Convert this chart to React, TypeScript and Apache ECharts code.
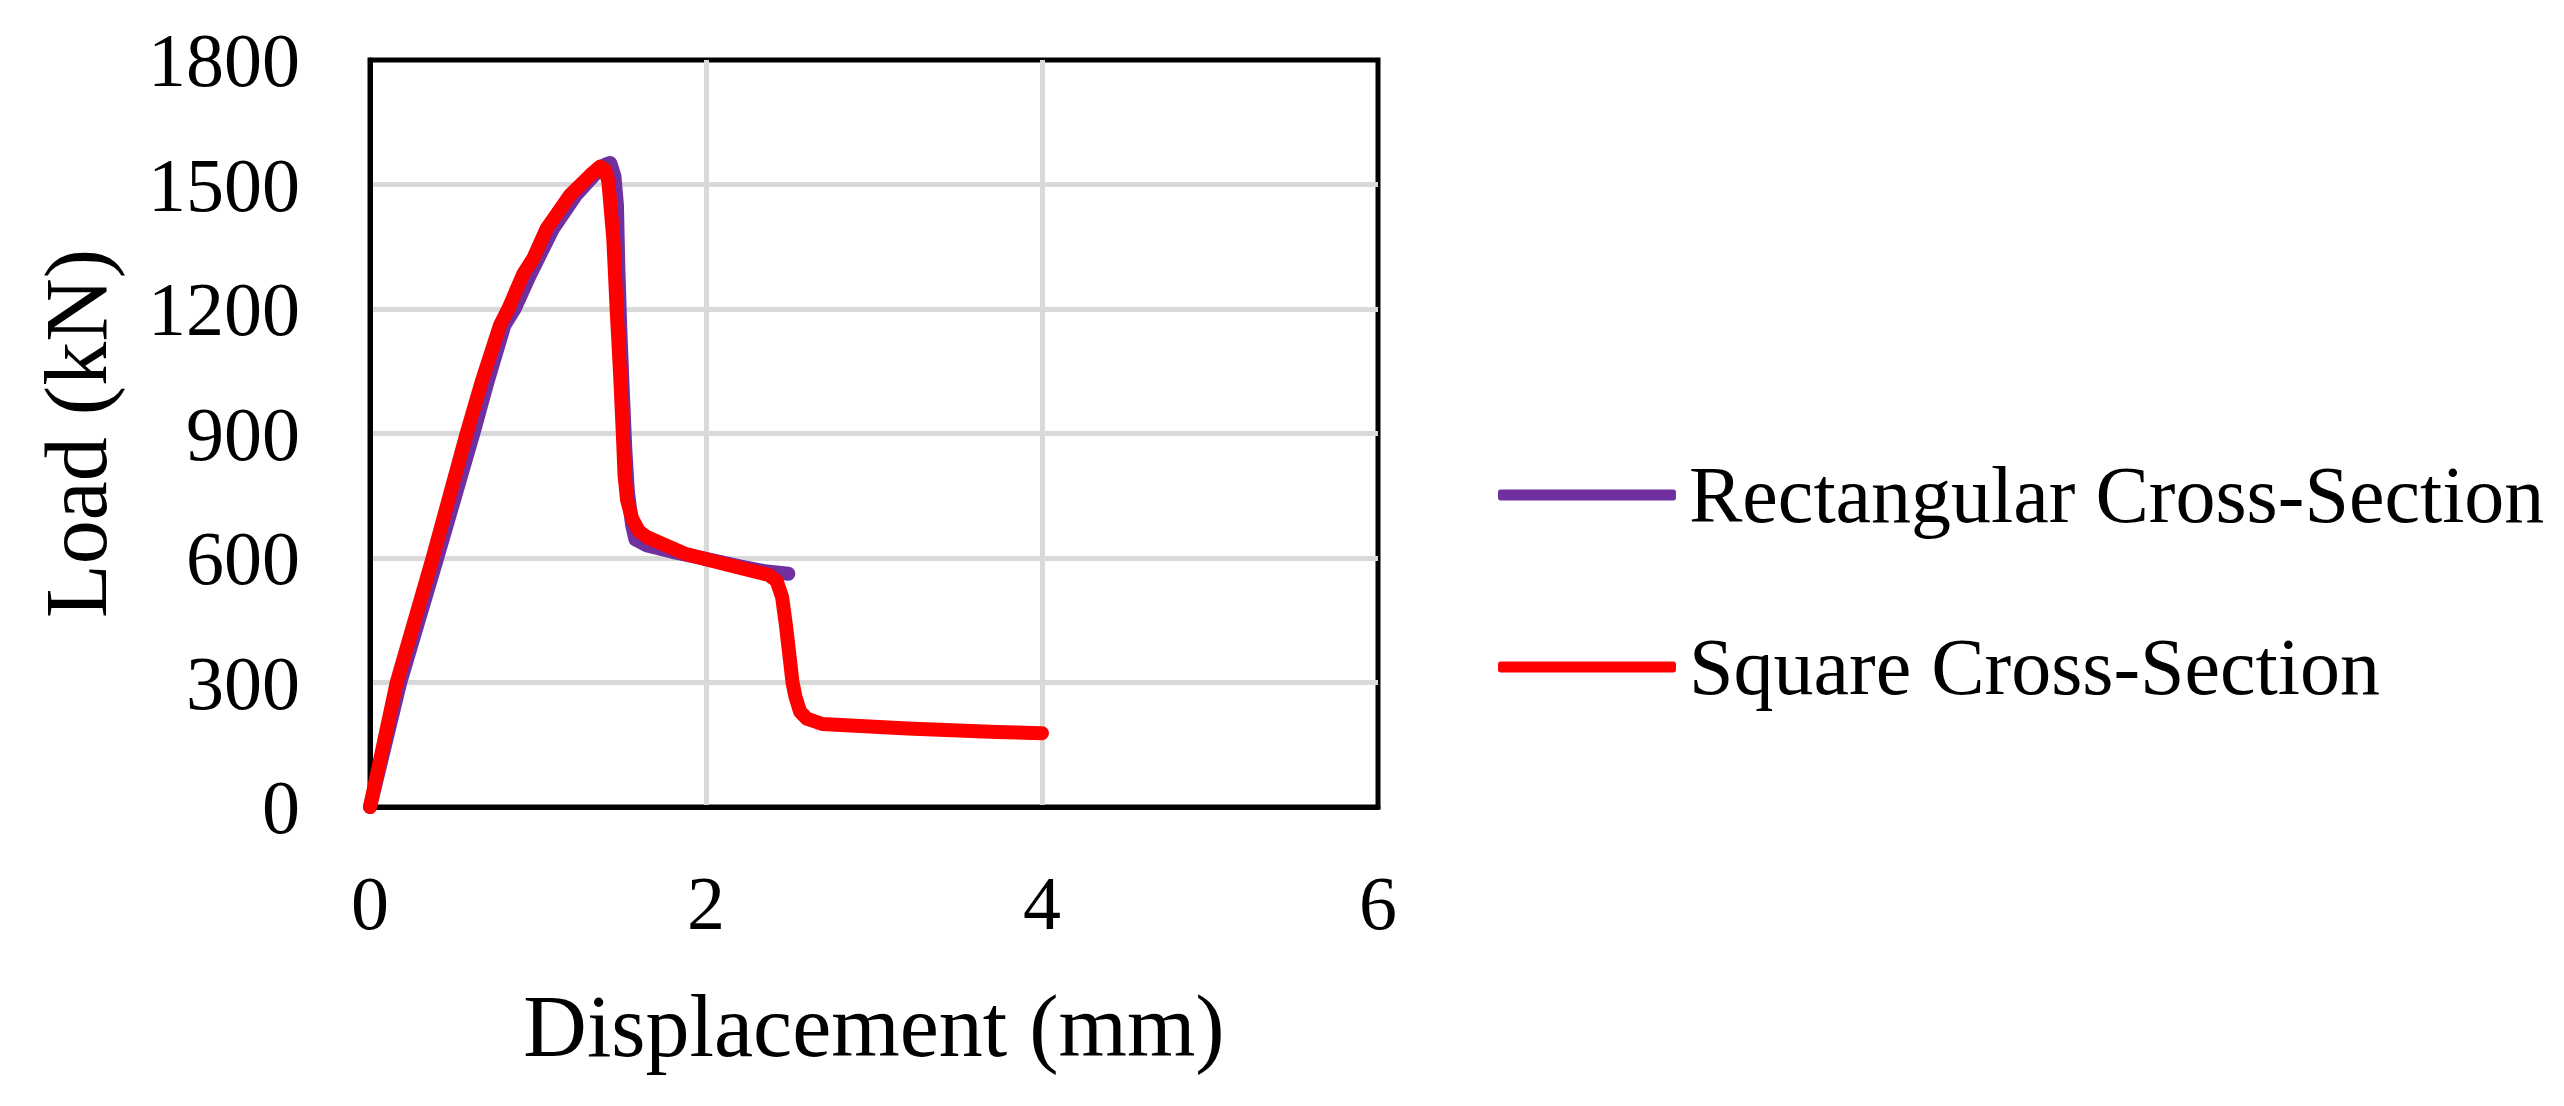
import React, { useEffect, useRef } from "react";
import * as echarts from "echarts";

const seriesNames = ["Rectangular Cross-Section", "Square Cross-Section"];

const rectX = [0, 0.18, 0.4, 0.615, 0.7, 0.8, 0.86, 0.95, 1.09, 1.225, 1.34, 1.4, 1.43, 1.455, 1.47, 1.478, 1.49, 1.505, 1.52, 1.535, 1.56, 1.58, 1.65, 1.8, 2.0, 2.2, 2.35, 2.49];
const rectY = [0, 300, 600, 900, 1025, 1161, 1200, 1280, 1394, 1474, 1525, 1548, 1552, 1520, 1450, 1300, 1150, 1000, 860, 760, 680, 645, 630, 615, 598, 580, 568, 562];

const squareX = [0, 0.159, 0.373, 0.575, 0.665, 0.774, 0.823, 0.913, 0.972, 1.052, 1.19, 1.31, 1.369, 1.4, 1.419, 1.448, 1.468, 1.488, 1.505, 1.515, 1.53, 1.56, 1.6, 1.65, 1.87, 2.0, 2.134, 2.374, 2.42, 2.453, 2.475, 2.493, 2.515, 2.533, 2.56, 2.6, 2.692, 3.2, 3.73, 4.0];
const squareY = [0, 300, 600, 900, 1025, 1161, 1200, 1285, 1322, 1394, 1474, 1522, 1543, 1535, 1506, 1370, 1201, 1048, 900, 800, 740, 695, 665, 650, 611, 597, 583, 559, 545, 506, 440, 378, 300, 265, 230, 213, 200, 189, 181, 178];

const xTicks = { min: 0, max: 6, interval: 2 };
const yTicks = { min: 0, max: 1800, interval: 300 };

const FONT = "'Liberation Serif', 'Times New Roman', serif";

function zip(xs: number[], ys: number[]) {
  return xs.map((x, i) => [x, ys[i]]);
}

export default function App() {
  const ref = useRef<HTMLDivElement>(null);
  useEffect(() => {
    if (!ref.current) return;
    const chart = echarts.init(ref.current, null, { renderer: "svg" });
    chart.setOption({
      animation: false,
      backgroundColor: "#ffffff",
      grid: {
        left: 370,
        right: 1186,
        top: 60,
        bottom: 299,
        show: true,
        borderColor: "#000",
        borderWidth: 5,
      },
      legend: {
        orient: "vertical",
        left: 1493,
        top: 450,
        itemWidth: 178,
        itemHeight: 11,
        itemGap: 92,
        icon: "roundRect",
        data: seriesNames,
        textStyle: {
          fontFamily: FONT,
          fontSize: 80,
          color: "#000",
          lineHeight: 80,
          padding: [0, 0, 0, 8],
        },
      },
      xAxis: {
        type: "value",
        min: xTicks.min,
        max: xTicks.max,
        interval: xTicks.interval,
        name: "Displacement (mm)",
        nameLocation: "middle",
        nameGap: 175,
        nameTextStyle: { fontFamily: FONT, fontSize: 88, color: "#000" },
        axisLine: { show: true, lineStyle: { color: "#000", width: 5 } },
        axisTick: { show: false },
        axisLabel: { fontFamily: FONT, fontSize: 76, color: "#000", margin: 58, formatter: (v: number) => String(v) },
        splitLine: { show: true, showMinLine: false, showMaxLine: false, lineStyle: { color: "#d9d9d9", width: 5 } },
      },
      yAxis: {
        type: "value",
        min: yTicks.min,
        max: yTicks.max,
        interval: yTicks.interval,
        name: "Load (kN)",
        nameLocation: "middle",
        nameGap: 250,
        nameTextStyle: { fontFamily: FONT, fontSize: 88, color: "#000" },
        axisLine: { show: true, lineStyle: { color: "#000", width: 5 } },
        axisTick: { show: false },
        axisLabel: { fontFamily: FONT, fontSize: 76, color: "#000", margin: 70, formatter: (v: number) => String(v) },
        splitLine: { show: true, showMinLine: false, showMaxLine: false, lineStyle: { color: "#d9d9d9", width: 5 } },
      },
      series: [
        {
          name: seriesNames[0],
          type: "line",
          data: zip(rectX, rectY),
          showSymbol: false,
          symbol: "none",
          color: "#7030A0",
          lineStyle: { color: "#7030A0", width: 14, cap: "round", join: "round" },
          z: 2,
        },
        {
          name: seriesNames[1],
          type: "line",
          data: zip(squareX, squareY),
          showSymbol: false,
          symbol: "none",
          color: "#FF0000",
          lineStyle: { color: "#FF0000", width: 14, cap: "round", join: "round" },
          z: 3,
        },
      ],
    });
    return () => chart.dispose();
  }, []);
  return (
    <div
      ref={ref}
      style={{ position: "fixed", left: 0, top: 0, width: 2564, height: 1106, background: "#fff" }}
    />
  );
}
